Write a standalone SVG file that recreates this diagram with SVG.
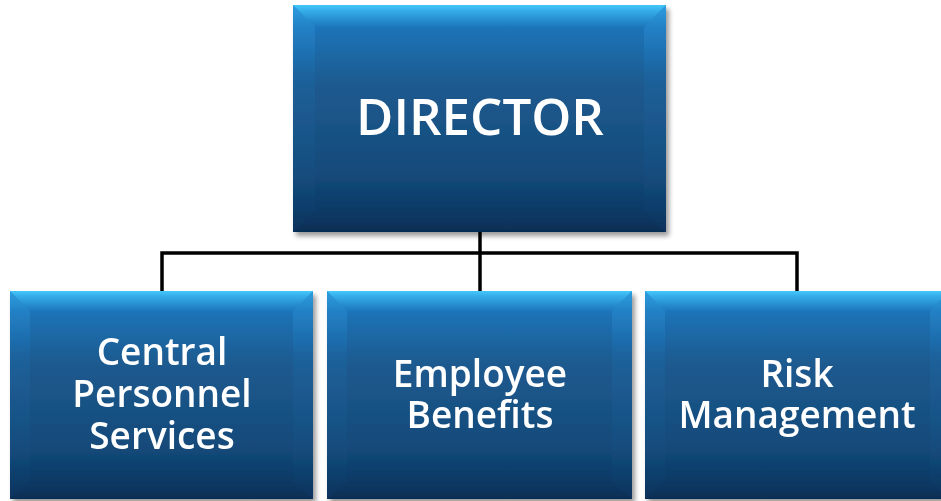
<svg xmlns="http://www.w3.org/2000/svg" width="941" height="501" viewBox="0 0 941 501">
<defs>
<linearGradient id="gMain" x1="0" y1="0" x2="0" y2="1">
<stop offset="0" stop-color="#3cc2f7"/>
<stop offset="0.03" stop-color="#2ea2e0"/>
<stop offset="0.1" stop-color="#1c74b8"/>
<stop offset="0.35" stop-color="#1f5a8f"/>
<stop offset="0.75" stop-color="#134a7a"/>
<stop offset="1" stop-color="#08305a"/>
</linearGradient>
<linearGradient id="gSide" x1="0" y1="0" x2="0" y2="1">
<stop offset="0" stop-color="#2a93d8" stop-opacity="0.8"/>
<stop offset="0.3" stop-color="#1d70b4" stop-opacity="0.3"/>
<stop offset="1" stop-color="#16507f" stop-opacity="0.05"/>
</linearGradient>
<linearGradient id="gTop" x1="0" y1="0" x2="0" y2="1">
<stop offset="0" stop-color="#44c8fa"/>
<stop offset="0.25" stop-color="#35aee9"/>
<stop offset="1" stop-color="#1f78bd" stop-opacity="0.5"/>
</linearGradient>
<linearGradient id="gBot" x1="0" y1="0" x2="0" y2="1">
<stop offset="0" stop-color="#0b3a63" stop-opacity="0"/>
<stop offset="1" stop-color="#052a4c" stop-opacity="0.6"/>
</linearGradient>
<filter id="sh" x="-5%" y="-5%" width="115%" height="115%">
<feGaussianBlur in="SourceAlpha" stdDeviation="2.5"/>
<feOffset dx="3" dy="4" result="b"/>
<feComponentTransfer><feFuncA type="linear" slope="0.4"/></feComponentTransfer>
<feMerge><feMergeNode/><feMergeNode in="SourceGraphic"/></feMerge>
</filter>
</defs>
<style>
.lbl{font-family:"Open Sans","Noto Sans",sans-serif;font-weight:600;fill:#ffffff;text-anchor:middle}
.conn{stroke:#000000;stroke-width:3.5;fill:none;stroke-linejoin:miter}
.main{fill:url(#gMain)}
.side{fill:url(#gSide)}
.top{fill:url(#gTop)}
.bot{fill:url(#gBot)}
</style>
<g id="connectors">
<path class="conn" d="M480,232 V291"/>
<path class="conn" d="M162,291 V253 H797 V291"/>
</g>
<g id="director" filter="url(#sh)">
<rect class="main" x="293" y="5" width="373" height="227"/>
<polygon class="top" points="293,5 666,5 644,27 315,27"/>
<polygon class="side" points="293,5 315,27 315,210 293,232"/>
<polygon class="side" points="666,5 644,27 644,210 666,232"/>
<polygon class="bot" points="293,232 315,214 644,214 666,232"/>
<text class="lbl" x="480" y="135" font-size="51">DIRECTOR</text>
</g>
<g id="central" filter="url(#sh)">
<rect class="main" x="10" y="291" width="303" height="208"/>
<polygon class="top" points="10,291 313,291 293,311 30,311"/>
<polygon class="side" points="10,291 30,311 30,481 10,499"/>
<polygon class="side" points="313,291 293,311 293,481 313,499"/>
<polygon class="bot" points="10,499 28,483 295,483 313,499"/>
<text class="lbl" font-size="37"><tspan x="162" y="365">Central</tspan><tspan x="162" y="407">Personnel</tspan><tspan x="162" y="449">Services</tspan></text>
</g>
<g id="benefits" filter="url(#sh)">
<rect class="main" x="327" y="291" width="305" height="208"/>
<polygon class="top" points="327,291 632,291 612,311 347,311"/>
<polygon class="side" points="327,291 347,311 347,481 327,499"/>
<polygon class="side" points="632,291 612,311 612,481 632,499"/>
<polygon class="bot" points="327,499 345,483 614,483 632,499"/>
<text class="lbl" font-size="37"><tspan x="480" y="387">Employee</tspan><tspan x="480" y="428">Benefits</tspan></text>
</g>
<g id="risk" filter="url(#sh)">
<rect class="main" x="645" y="291" width="305" height="208"/>
<polygon class="top" points="645,291 950,291 930,311 665,311"/>
<polygon class="side" points="645,291 665,311 665,481 645,499"/>
<polygon class="side" points="950,291 930,311 930,481 950,499"/>
<polygon class="bot" points="645,499 663,483 932,483 950,499"/>
<text class="lbl" font-size="37"><tspan x="797" y="387">Risk</tspan><tspan x="797" y="428">Management</tspan></text>
</g>
</svg>
